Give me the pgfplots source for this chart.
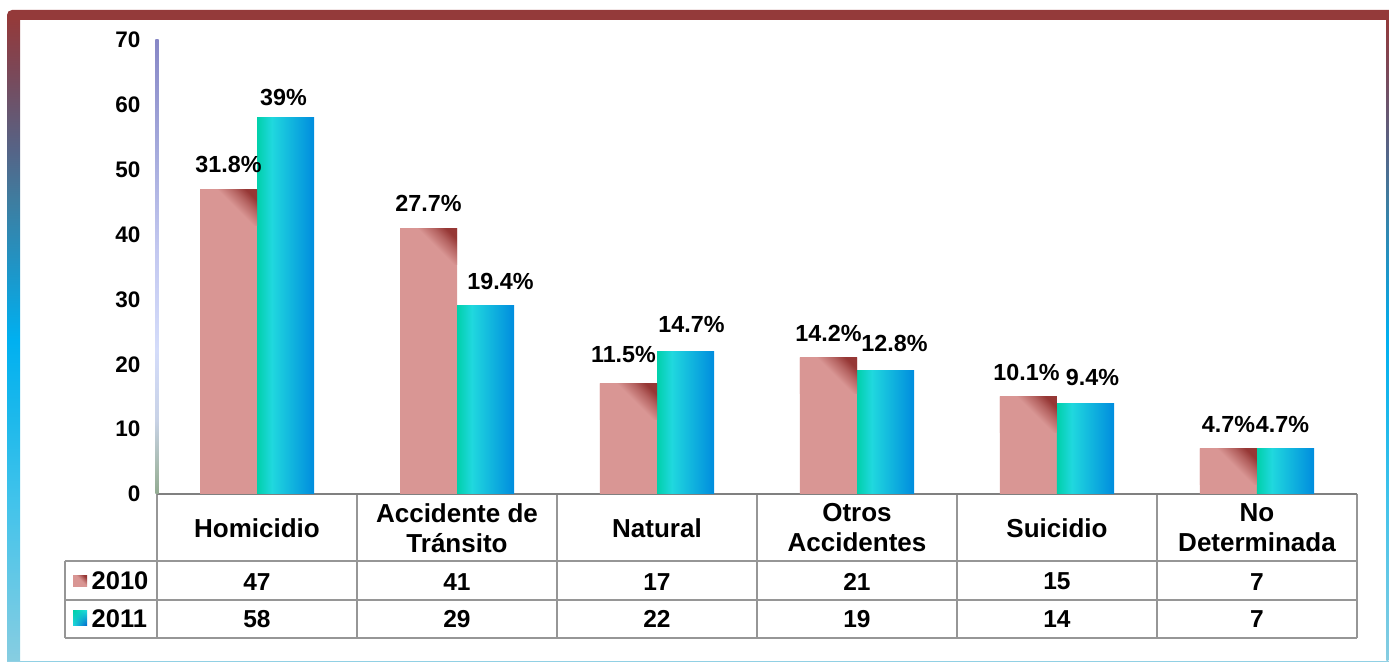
\documentclass[border=0pt]{standalone}
\usepackage{pgfplots}
\pgfplotsset{compat=1.18}
\usepackage{pgfplotstable}
\usetikzlibrary{shadings}
\usepackage{fontspec}
\setmainfont{Liberation Sans}

\definecolor{pinkbar}{RGB}{217,150,148}
\definecolor{darkbar}{RGB}{150,55,53}
\definecolor{teal1}{RGB}{0,208,170}
\definecolor{cyan1}{RGB}{32,216,222}
\definecolor{blue1}{RGB}{0,140,222}
\definecolor{blue2}{RGB}{0,100,205}
\definecolor{frred}{RGB}{148,58,58}
\definecolor{fb1}{RGB}{125,70,85}
\definecolor{fb2}{RGB}{85,100,135}
\definecolor{fb3}{RGB}{62,125,160}
\definecolor{fb4}{RGB}{30,150,200}
\definecolor{fb5}{RGB}{0,176,240}
\definecolor{fb6}{RGB}{30,185,235}
\definecolor{fb7}{RGB}{65,195,235}
\definecolor{fb8}{RGB}{135,205,225}
\definecolor{ya1}{RGB}{135,135,198}
\definecolor{ya2}{RGB}{165,170,220}
\definecolor{ya3}{RGB}{195,200,240}
\definecolor{ya4}{RGB}{212,220,250}
\definecolor{ya5}{RGB}{200,210,230}
\definecolor{ya6}{RGB}{165,185,170}
\definecolor{ya7}{RGB}{145,170,145}
\definecolor{tabline}{RGB}{150,150,150}
\definecolor{axline}{RGB}{128,128,128}
\definecolor{botline}{RGB}{145,208,228}

\pgfdeclarehorizontalshading{bluebar}{100bp}{color(0bp)=(teal1); color(25bp)=(teal1); color(38bp)=(cyan1); color(75bp)=(blue1); color(100bp)=(blue1)}
\pgfdeclarehorizontalshading{redcorner}{100bp}{color(0bp)=(pinkbar); color(55bp)=(pinkbar); color(68bp)=(darkbar!55!pinkbar); color(77bp)=(darkbar); color(100bp)=(darkbar)}
\pgfdeclareverticalshading{frameband}{100bp}{color(0bp)=(fb8); color(25bp)=(fb8); color(37.5bp)=(fb7); color(43.7bp)=(fb6); color(50bp)=(fb5); color(55.4bp)=(fb4); color(60.8bp)=(fb3); color(64.7bp)=(fb2); color(71.2bp)=(fb1); color(75bp)=(frred); color(100bp)=(frred)}
\pgfdeclareverticalshading{yaxisline}{100bp}{color(0bp)=(ya7); color(25bp)=(ya7); color(27.6bp)=(ya6); color(33.1bp)=(ya5); color(40.9bp)=(ya4); color(51.9bp)=(ya3); color(62.9bp)=(ya2); color(75bp)=(ya1); color(100bp)=(ya1)}

\newcommand\tickfont{\fontsize{22.5}{26}\selectfont\bfseries}
\newcommand\lblfont{\fontsize{23.3}{27}\selectfont\bfseries}
\newcommand\catfont{\fontsize{26}{30}\selectfont\bfseries}
\newcommand\tabfont{\fontsize{24.5}{28}\selectfont\bfseries}
\newcommand\yearfont{\fontsize{25.5}{28}\selectfont\bfseries}

\pgfplotstableread{
x a b la lb dxa dya dxb dyb
0 47 58 31.8 39 0 0 -2 -4
1 41 29 27.7 19.4 0 0 15 0
2 17 22 11.5 14.7 -5 4.5 6 2
3 21 19 14.2 12.8 0 0 9 3
4 15 14 10.1 9.4 -2 0 7 1
5 7 7 4.7 4.7 0 0 -3 0
}\data

\begin{document}
\begin{tikzpicture}
\begin{scope}[x=1pt,y=1pt]
\useasboundingbox (0,0) rectangle (1389,663);
% frame
\shade[shading=frameband] (7,2) rectangle (20,645);
\shade[shading=frameband] (1386.3,2) rectangle (1388.3,645);
\fill[botline] (7,0.5) rectangle (1389,2.2);
\fill[frred] (7,643) -- (7,648) arc[start angle=180, end angle=90, radius=5] -- (1389,653) -- (1389,643) -- cycle;
% table
\draw[tabline, line width=1.8pt] (65,102) -- (1357,102);
\draw[tabline, line width=1.8pt] (65,63) -- (1357,63);
\draw[tabline, line width=1.8pt] (65,25) -- (1357,25);
\draw[tabline, line width=1.8pt] (65,102) -- (65,25);
\foreach \xx in {157,357,557,757,957,1157,1357}{
  \draw[tabline, line width=1.8pt] (\xx,169) -- (\xx,25);
}
\draw[axline, line width=2pt] (157,169) -- (1357,169);
% y axis line
\shade[shading=yaxisline] (155.3,169) rectangle (158.7,623);
% legend keys and years
\shade[shading=redcorner, shading angle=45] (73,76.3) rectangle (87,87.7);
\shade[upper left=teal1, upper right=cyan1, lower left=cyan1, lower right=blue2] (73,37.3) rectangle (87,52);
\node[anchor=west, inner sep=0pt, font=\yearfont] at (91.5,82.5) {2010};
\node[anchor=west, inner sep=0pt, font=\yearfont] at (91.5,44) {2011};
\end{scope}

\begin{axis}[
  at={(157pt,169pt)}, anchor=south west,
  scale only axis, width=1200pt, height=454pt,
  xmin=-0.5, xmax=5.5, ymin=0, ymax=70,
  clip=false,
  axis line style={draw=none},
  tick style={draw=none},
  major tick length=0pt,
  ytick={0,10,...,70},
  xtick={0,...,5},
  xticklabels={Homicidio,{Accidente de\\Tránsito},Natural,{Otros\\Accidentes},Suicidio,{No\\Determinada}},
  xticklabel style={align=center, font=\catfont, anchor=center, yshift=-34pt},
  yticklabel style={font=\tickfont, xshift=-13pt},
  /pgf/number format/assume math mode=true,
]
% 2010 bars
\addplot[ybar, bar width=57pt, bar shift=-28.5pt, draw=none, fill=pinkbar,
  point meta=explicit symbolic,
  visualization depends on={\thisrow{dxa} \as \mydx},
  visualization depends on={\thisrow{dya} \as \mydy},
  nodes near coords={\pgfplotspointmeta\%},
  nodes near coords style={font=\lblfont, anchor=south, inner sep=0pt, xshift=\mydx pt-28.5pt, yshift=16pt+\mydy pt}]
  table[x=x, y=a, meta=la]{\data};
% 2010 corner shading
\addplot[ybar, bar width=57pt, bar shift=-28.5pt, draw=none, fill=none,
  nodes near coords={},
  nodes near coords style={anchor=north, inner sep=0pt, outer sep=0pt, xshift=-28.5pt, minimum width=57pt, minimum height=36pt, shade, shading=redcorner, shading angle=45}]
  table[x=x, y=a]{\data};
% 2011 bars, one path per bar so that each is shaded on its own
\pgfplotsinvokeforeach{0,...,5}{
\addplot[ybar, bar width=57pt, bar shift=28.5pt, draw=none, shade, shading=bluebar,
  restrict x to domain=#1:#1,
  point meta=explicit symbolic,
  visualization depends on={\thisrow{dxb} \as \mydxb},
  visualization depends on={\thisrow{dyb} \as \mydyb},
  nodes near coords={\pgfplotspointmeta\%},
  nodes near coords style={font=\lblfont, anchor=south, inner sep=0pt, xshift=\mydxb pt+28.5pt, yshift=16pt+\mydyb pt}]
  table[x=x, y=b, meta=lb]{\data};
}
% table rows
\addplot[ybar, bar width=1pt, bar shift=0pt, draw=none, fill=none,
  point meta=explicit symbolic,
  nodes near coords, nodes near coords style={anchor=center, inner sep=0pt, font=\tabfont}]
  table[x=x, y expr=-13.52, meta=a]{\data};
\addplot[ybar, bar width=1pt, bar shift=0pt, draw=none, fill=none,
  point meta=explicit symbolic,
  nodes near coords, nodes near coords style={anchor=center, inner sep=0pt, font=\tabfont}]
  table[x=x, y expr=-19.27, meta=b]{\data};
\end{axis}
\end{tikzpicture}
\end{document}
